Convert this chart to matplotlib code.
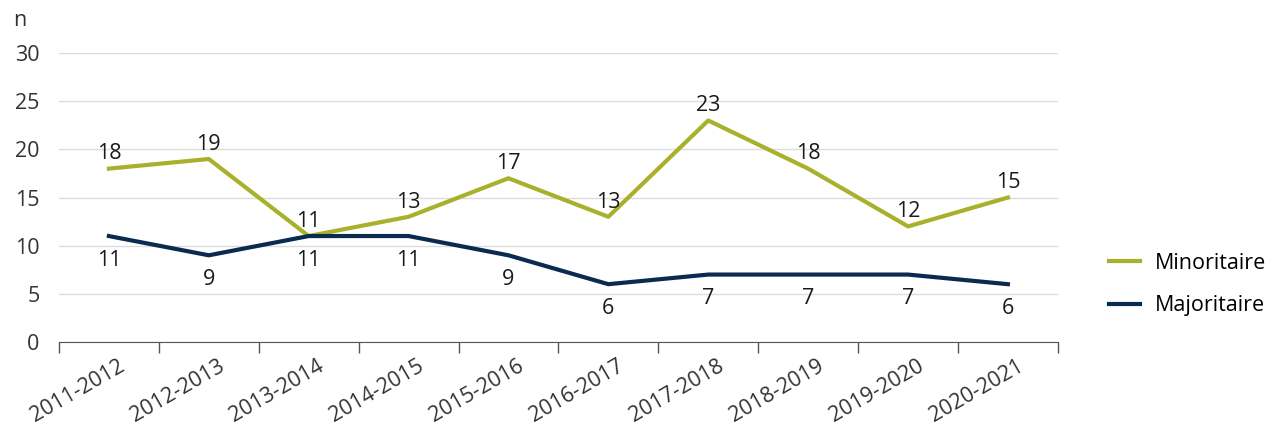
import numpy as np
import matplotlib.pyplot as plt
import matplotlib.transforms as mtransforms

plt.rcParams['font.family'] = ['Open Sans', 'DejaVu Sans']

periods = ['2011-2012', '2012-2013', '2013-2014', '2014-2015', '2015-2016',
           '2016-2017', '2017-2018', '2018-2019', '2019-2020', '2020-2021']
minoritaire = [18, 19, 11, 13, 17, 13, 23, 18, 12, 15]
majoritaire = [11, 9, 11, 11, 9, 6, 7, 7, 7, 6]

col_min = '#a9b02b'
col_maj = '#0b2a50'
fs = 15.5

fig = plt.figure(figsize=(12.73, 4.28), dpi=100)
ax = fig.add_axes([0.0463, 0.201, 0.7847, 0.675])

x = np.arange(len(periods))
ax.plot(x, minoritaire, color=col_min, lw=3, label='Minoritaire')
ax.plot(x, majoritaire, color=col_maj, lw=3, label='Majoritaire')

for i in range(len(x)):
    ax.annotate(str(minoritaire[i]), (x[i], minoritaire[i]), xytext=(0, 3),
                textcoords='offset points', ha='center', va='bottom', fontsize=fs, color='#1a1a1a')
    ax.annotate(str(majoritaire[i]), (x[i], majoritaire[i]), xytext=(0, -10),
                textcoords='offset points', ha='center', va='top', fontsize=fs, color='#1a1a1a')

ax.set_xlim(-0.5, len(periods) - 0.5)
ax.set_ylim(0, 30)
ax.set_yticks(range(0, 31, 5))
ax.grid(axis='y', color='#dcdcdc', lw=1)
ax.set_axisbelow(True)

# ticks at category borders, labels drawn by hand (rotated, a bit right of centre)
ax.set_xticks(np.arange(-0.5, len(periods), 1.0))
ax.set_xticklabels([])
ax.tick_params(axis='x', length=8, color='#555555', width=1)
ax.tick_params(axis='y', length=0, labelsize=fs, labelcolor='#333333', pad=14)

base = mtransforms.blended_transform_factory(ax.transData, ax.transAxes)
off = mtransforms.ScaledTranslation(12 / 72, -20 / 72, fig.dpi_scale_trans)
for i in range(len(x)):
    ax.text(x[i], 0, periods[i], transform=base + off, rotation=30, ha='right', va='baseline',
            rotation_mode='anchor', fontsize=fs, color='#333333', clip_on=False)

for s in ['top', 'right', 'left']:
    ax.spines[s].set_visible(False)
ax.spines['bottom'].set_color('#555555')

fig.text(13 / 1273, 1 - 26 / 428, 'n', fontsize=fs, color='#333333', ha='left', va='baseline')

ax.legend(loc='center left', bbox_to_anchor=(1109 / 1273, 0.335), bbox_transform=fig.transFigure,
          frameon=False, fontsize=fs, borderpad=0, borderaxespad=0,
          handlelength=1.45, labelspacing=1.0, handletextpad=0.7)

fig.savefig('out.png', dpi=100)
